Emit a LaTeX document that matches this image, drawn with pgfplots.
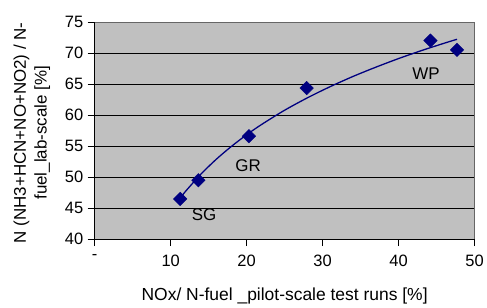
\documentclass[border=0pt]{standalone}
\usepackage{pgfplots}
\pgfplotsset{compat=1.18}
\usepackage{fontspec}
\setmainfont{Liberation Sans}
\definecolor{navy}{RGB}{0,0,128}
\definecolor{plotgray}{RGB}{192,192,192}
\begin{document}
\begin{tikzpicture}
\begin{axis}[
 at={(0,0)}, anchor=south west, scale only axis,
 width=381pt, height=218pt,
 xmin=0, xmax=50, ymin=40, ymax=75,
 xtick={0,10,20,30,40,50}, xticklabels={-,10,20,30,40,50},
 ytick={40,45,...,75},
 axis x line*=bottom, axis y line*=left,
 axis line style={black, line width=0.8pt, -},
 tick align=outside, major tick length=7pt,
 tick style={black, line width=0.8pt},
 ymajorgrids, grid style={black, line width=0.6pt},
 axis background/.style={fill=plotgray},
 /pgf/number format/assume math mode=true,
 tick label style={font=\fontsize{16.5}{18}\selectfont},
 yticklabel style={xshift=-1pt},
 xticklabel style={yshift=-5pt},
 every axis y label/.style={at={(axis description cs:0,0.49)}, xshift=-63pt, rotate=90, anchor=center, align=center, font=\fontsize{17}{21}\selectfont},
 every axis x label/.style={at={(axis description cs:0.5,0)}, yshift=-57pt, anchor=center, font=\fontsize{17.5}{18}\selectfont},
 ylabel={N (NH3+HCN+NO+NO2) / N-\\fuel\_lab-scale [\%]},
 xlabel={NOx/ N-fuel \_pilot-scale test runs [\%]},
 clip=false,
]
\draw[gray!80!black, line width=0.8pt] (rel axis cs:0,1) -- (rel axis cs:1,1) -- (rel axis cs:1,0);
\addplot[navy, line width=1.3pt, smooth, no marks] coordinates {
(11.2,46.56) (12,47.78) (14,50.51) (16,52.88) (18,54.96) (20,56.83) (22,58.51)
(25,60.78) (28,62.78) (31,64.58) (34,66.22) (37,67.71) (40,69.10) (43,70.38)
(46,71.57) (47.7,72.21)};
\addplot[only marks, mark=square*, mark size=4.8pt, mark options={rotate=45, fill=navy, draw=navy}] coordinates {
(11.25,46.5) (13.65,49.5) (20.3,56.6) (27.9,64.35) (44.2,72.0) (47.7,70.5)};
\node[font=\fontsize{17}{18}\selectfont] at (axis cs:14.4,43.9) {SG};
\node[font=\fontsize{17}{18}\selectfont] at (axis cs:20.2,51.9) {GR};
\node[font=\fontsize{17}{18}\selectfont] at (axis cs:43.6,66.6) {WP};
\end{axis}
\path[use as bounding box] (-95pt,-67pt) rectangle (392pt,240pt);
\end{tikzpicture}
\end{document}
